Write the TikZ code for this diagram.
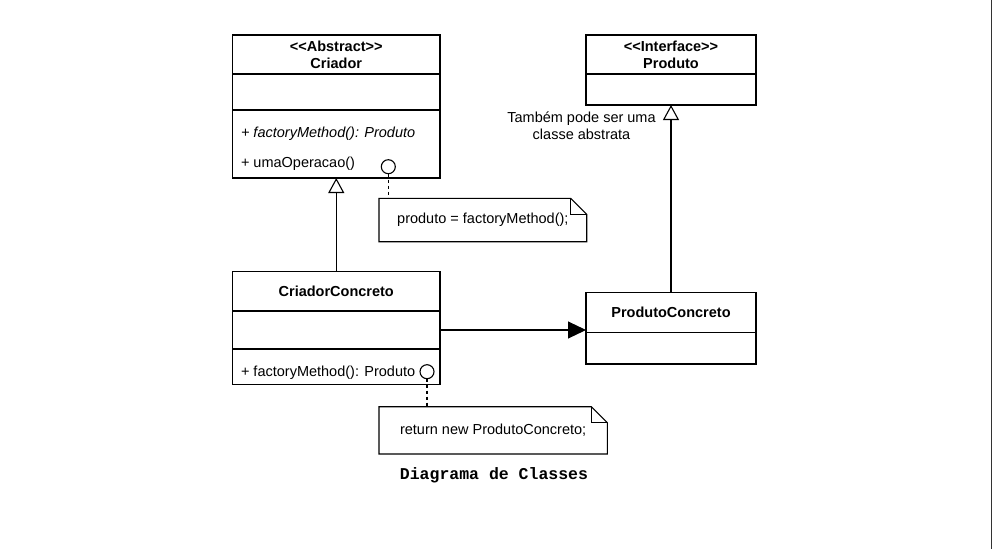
\documentclass[tikz,border=0pt]{standalone}
\usepackage{fontspec}
\setmainfont{Liberation Sans}[Ligatures=TeXOff]
\newfontfamily\captionfont{Liberation Mono}
\usetikzlibrary{positioning,arrows.meta}

\begin{document}
\begin{tikzpicture}
[x=1pt,y=-1pt,line width=1.1pt,
	every node/.style={inner sep=0pt,outer sep=0pt,font=\fontsize{14.5}{17}\selectfont},
	classhead/.style={draw,rectangle,align=center,font=\bfseries\fontsize{14.5}{17}\selectfont},
	compart/.style={draw,rectangle},
	member/.style={anchor=west},
	port/.style={draw,circle,fill=white,minimum size=14pt},
	inherit/.style={-{Triangle[open,width=16pt,length=15pt]}},
	assoc/.style={-{Triangle[width=17pt,length=18pt]}},
	notelink/.style={dash pattern=on 3pt off 3pt}]
\fill[white] (0,0) rectangle (992,549);
\useasboundingbox (0,0) rectangle (992,549);
\draw[black!80,line width=1.2pt] (991.4,0) -- (991.4,549);

% Criador
\node[classhead,minimum width=207.5pt,minimum height=39pt] (criador) at (336.25,54.5)
	{<<Abstract>>\\Criador};
\node[compart,minimum width=207.5pt,minimum height=36pt,below=0pt of criador] (criadorAttr) {};
\node[compart,minimum width=207.5pt,minimum height=68pt,below=0pt of criadorAttr] (criadorMeth) {};
\node[member] (criadorM1) at (241,133.5) {\itshape + factoryMethod(): Produto};
\node[member] (criadorM2) at (241,164) {+ umaOperacao()};
\node[port] (criadorPort) at (388.3,166.7) {};

% CriadorConcreto
\node[classhead,minimum width=207.5pt,minimum height=39.5pt] (criadorConc) at (336.25,291.25)
	{CriadorConcreto};
\node[compart,minimum width=207.5pt,minimum height=38pt,below=0pt of criadorConc] (criadorConcAttr) {};
\node[compart,minimum width=207.5pt,minimum height=35.3pt,below=0pt of criadorConcAttr] (criadorConcMeth) {};
\node[member] (criadorConcM1) at (241,373) {+ factoryMethod(): Produto};
\node[port] (criadorConcPort) at (427,371.7) {};

% Produto
\node[classhead,minimum width=170pt,minimum height=39pt] (produto) at (671,54.5)
	{<<Interface>>\\Produto};
\node[compart,minimum width=170pt,minimum height=31pt,below=0pt of produto] (produtoAttr) {};
\node[align=center] (produtoLbl) at (581.5,126) {Também pode ser uma\\classe abstrata};

% ProdutoConcreto
\node[classhead,minimum width=170pt,minimum height=39.6pt] (produtoConc) at (671,312.5)
	{ProdutoConcreto};
\node[compart,minimum width=170pt,minimum height=31.7pt,below=0pt of produtoConc] (produtoConcAttr) {};

% notes
\node[minimum width=207.7pt,minimum height=43.4pt] (noteOp) at (482.85,220)
	{produto = factoryMethod();};
\node[minimum width=228.3pt,minimum height=47.3pt] (noteFm) at (493.15,430.35)
	{return new ProdutoConcreto;};
\foreach \noteNode in {noteOp,noteFm}
{
	\draw (\noteNode.north west) -- ([xshift=-16pt]\noteNode.north east)
		-- ([yshift=-16pt]\noteNode.north east) -- (\noteNode.south east)
		-- (\noteNode.south west) -- cycle;
	\draw ([xshift=-16pt]\noteNode.north east) |- ([yshift=-16pt]\noteNode.north east);
}

\node[font=\captionfont\bfseries\fontsize{16.5}{19}\selectfont] (caption) at (494,475)
	{Diagrama de Classes};

\path
\foreach \startNode/\endNode in {criadorConc/criadorMeth,produtoConc/produtoAttr}
{
	(\startNode) edge[inherit] (\endNode)
};
\path
\foreach \portNode/\noteNode in {criadorPort/noteOp,criadorConcPort/noteFm}
{
	(\portNode.south) edge[notelink] (\portNode.south |- \noteNode.north)
};
\draw[assoc] (criadorConcAttr.east) -- (criadorConcAttr.east -| produtoConc.west);
\end{tikzpicture}
\end{document}
